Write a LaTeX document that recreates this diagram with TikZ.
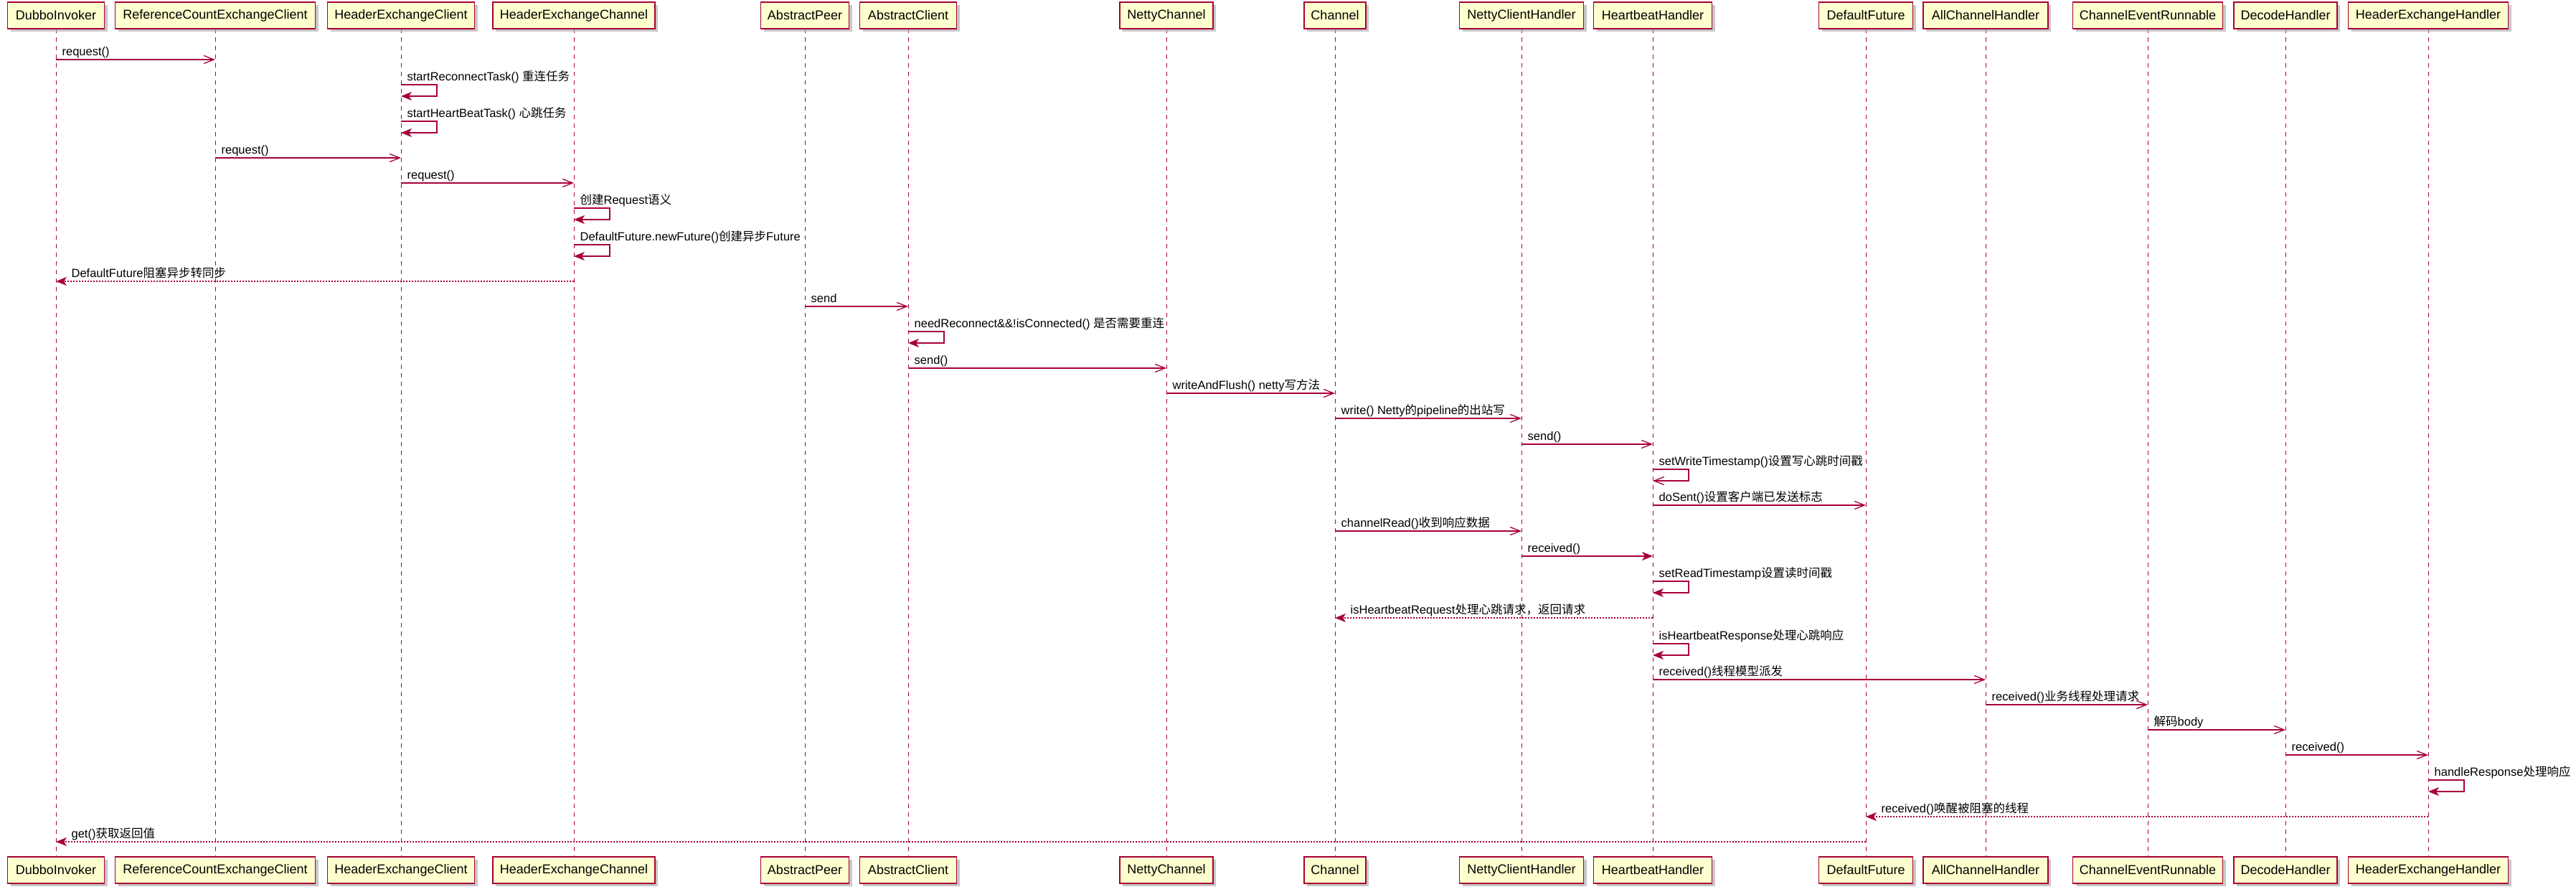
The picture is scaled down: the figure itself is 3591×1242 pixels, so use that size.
\documentclass[tikz,border=0pt]{standalone}
\usepackage{fontspec}
\setmainfont{Liberation Sans}
\newfontfamily\cjk{Noto Sans CJK SC}
\usetikzlibrary{arrows.meta,shadows}
\definecolor{pred}{HTML}{A80036}
\definecolor{pfill}{HTML}{FEFECE}
\newcommand\zh[1]{{\cjk #1}}
\newcommand\partfont{\fontsize{18}{20}\selectfont}
\newcommand\msgfont{\fontsize{16.5}{18}\selectfont}
\tikzset{
  part/.style={draw=pred, fill=pfill, line width=1.8pt, minimum height=37pt, inner sep=0pt,
    font=\partfont, drop shadow={shadow xshift=4pt, shadow yshift=-4pt, fill=black!30, opacity=0.7}},
  life/.style={draw=pred, line width=1pt, dash pattern=on 6pt off 6pt},
  msg/.style={draw=pred, line width=1.3pt, -{Straight Barb[length=14pt,width=11pt]}},
  msgf/.style={draw=pred, line width=1.3pt, -{Stealth[length=15pt,width=12pt,inset=4pt]}},
  ret/.style={msgf, dash pattern=on 2pt off 2pt},
  rl/.style={pos=0, anchor=base west, xshift=8pt, yshift=6pt, inner sep=0pt, font=\msgfont, text=black},
  ll/.style={pos=1, anchor=base west, xshift=21pt, yshift=6pt, inner sep=0pt, font=\msgfont, text=black},
  sl/.style={anchor=base west, xshift=8pt, yshift=6pt, inner sep=0pt, font=\msgfont, text=black}
}
\begin{document}
\begin{tikzpicture}[x=1pt,y=-1pt]
\useasboundingbox (0,0) rectangle (3591,1242);
\fill[white] (0,0) rectangle (3591,1242);
\foreach \n/\x/\w/\t in {1/78/135/DubboInvoker, 2/300/279/ReferenceCountExchangeClient,
  3/559/205/HeaderExchangeClient, 4/800/226/HeaderExchangeChannel, 5/1122/123/AbstractPeer,
  6/1266/135/AbstractClient, 7/1626/130/NettyChannel, 8/1861/86/Channel,
  9/2121/173/NettyClientHandler, 10/2304/165/HeartbeatHandler, 11/2601/131/DefaultFuture,
  12/2768/174/AllChannelHandler, 13/2994/209/ChannelEventRunnable, 14/3186/144/DecodeHandler,
  15/3385/223/HeaderExchangeHandler}{
  \coordinate (L\n) at (\x,40);
  \draw[life] (\x,40) -- (\x,1194);
  \node[part, minimum width=\w pt] (T\n) at (\x,21.5) {\t};
  \node[part, minimum width=\w pt] (B\n) at (\x,1212.5) {\t};
}
% messages
\draw[msg] (T1 |- 0,83) -- node[rl]{request()} (T2 |- 0,83);
\draw[msgf] (T3 |- 0,118) node[sl]{startReconnectTask() \zh{重连任务}} -- ++(50,0) -- ++(0,16) -- (T3 |- 0,134);
\draw[msgf] (T3 |- 0,169) node[sl]{startHeartBeatTask() \zh{心跳任务}} -- ++(50,0) -- ++(0,16) -- (T3 |- 0,185);
\draw[msg] (T2 |- 0,220) -- node[rl]{request()} (T3 |- 0,220);
\draw[msg] (T3 |- 0,255) -- node[rl]{request()} (T4 |- 0,255);
\draw[msgf] (T4 |- 0,290) node[sl]{\zh{创建}Request\zh{语义}} -- ++(50,0) -- ++(0,16) -- (T4 |- 0,306);
\draw[msgf] (T4 |- 0,341) node[sl]{DefaultFuture.newFuture()\zh{创建异步}Future} -- ++(50,0) -- ++(0,16) -- (T4 |- 0,357);
\draw[ret] (T4 |- 0,392) -- node[ll]{DefaultFuture\zh{阻塞异步转同步}} (T1 |- 0,392);
\draw[msg] (T5 |- 0,427) -- node[rl]{send} (T6 |- 0,427);
\draw[msgf] (T6 |- 0,462) node[sl]{needReconnect\&\&!isConnected() \zh{是否需要重连}} -- ++(50,0) -- ++(0,16) -- (T6 |- 0,478);
\draw[msg] (T6 |- 0,513) -- node[rl]{send()} (T7 |- 0,513);
\draw[msg] (T7 |- 0,548) -- node[rl]{writeAndFlush() netty\zh{写方法}} (T8 |- 0,548);
\draw[msg] (T8 |- 0,583) -- node[rl]{write() Netty\zh{的}pipeline\zh{的出站写}} (T9 |- 0,583);
\draw[msg] (T9 |- 0,619) -- node[rl]{send()} (T10 |- 0,619);
\draw[msg] (T10 |- 0,654) node[sl]{setWriteTimestamp()\zh{设置写心跳时间戳}} -- ++(50,0) -- ++(0,16) -- (T10 |- 0,670);
\draw[msg] (T10 |- 0,704) -- node[rl]{doSent()\zh{设置客户端已发送标志}} (T11 |- 0,704);
\draw[msg] (T8 |- 0,740) -- node[rl]{channelRead()\zh{收到响应数据}} (T9 |- 0,740);
\draw[msgf] (T9 |- 0,775) -- node[rl]{received()} (T10 |- 0,775);
\draw[msgf] (T10 |- 0,810) node[sl]{setReadTimestamp\zh{设置读时间戳}} -- ++(50,0) -- ++(0,16) -- (T10 |- 0,826);
\draw[ret] (T10 |- 0,861) -- node[ll]{isHeartbeatRequest\zh{处理心跳请求，返回请求}} (T8 |- 0,861);
\draw[msgf] (T10 |- 0,897) node[sl]{isHeartbeatResponse\zh{处理心跳响应}} -- ++(50,0) -- ++(0,16) -- (T10 |- 0,913);
\draw[msg] (T10 |- 0,947) -- node[rl]{received()\zh{线程模型派发}} (T12 |- 0,947);
\draw[msg] (T12 |- 0,982) -- node[rl]{received()\zh{业务线程处理请求}} (T13 |- 0,982);
\draw[msg] (T13 |- 0,1017) -- node[rl]{\zh{解码}body} (T14 |- 0,1017);
\draw[msg] (T14 |- 0,1052) -- node[rl]{received()} (T15 |- 0,1052);
\draw[msgf] (T15 |- 0,1087) node[sl]{handleResponse\zh{处理响应}} -- ++(50,0) -- ++(0,16) -- (T15 |- 0,1103);
\draw[ret] (T15 |- 0,1138) -- node[ll]{received()\zh{唤醒被阻塞的线程}} (T11 |- 0,1138);
\draw[ret] (T11 |- 0,1173) -- node[ll]{get()\zh{获取返回值}} (T1 |- 0,1173);
\end{tikzpicture}
\end{document}
